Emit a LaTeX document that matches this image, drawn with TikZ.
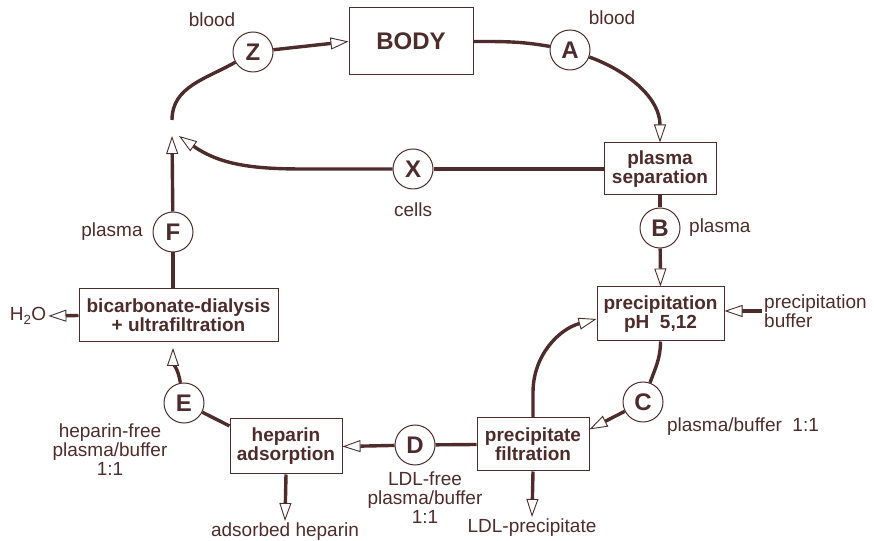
\documentclass[tikz,border=0pt]{standalone}
\usepackage{fontspec}
\setmainfont{Liberation Sans}
\usetikzlibrary{arrows.meta}
\definecolor{ink}{RGB}{78,44,44}

\begin{document}
\begin{tikzpicture}[x=1pt, y=1pt, font=\fontsize{19}{19}\selectfont, text=ink]
	\tikzset{
		cbox/.style={rectangle, draw=ink, line width=1pt, fill=white, align=center, font=\fontsize{19}{19}\selectfont\bfseries},
		cletter/.style={circle, draw=ink, line width=1pt, fill=white, minimum size=40pt, inner sep=0pt, font=\fontsize{24}{24}\selectfont\bfseries},
		clabel/.style={inner sep=2pt, align=center},
		flow/.style={draw=ink, line width=3.4pt},
		arr/.style={-{Triangle[length=18pt, width=12pt, fill=white, line width=0.9pt]}}
	}
	\useasboundingbox (0,0) rectangle (874,540);
	% boxes
	\node[cbox, minimum width=124pt, minimum height=67pt, font=\fontsize{24}{24}\selectfont\bfseries] (body) at (411,498.5) {BODY};
	\node[cbox, minimum width=112pt, minimum height=52pt] (sep) at (660,371) {plasma\\separation};
	\node[cbox, minimum width=127pt, minimum height=54pt] (prec) at (660.5,226) {precipitation\\pH\ \ 5,12};
	\node[cbox, minimum width=112pt, minimum height=53pt] (filt) at (533,95.5) {precipitate\\filtration};
	\node[cbox, minimum width=112pt, minimum height=55pt] (hep) at (286,93.5) {heparin\\adsorption};
	\node[cbox, minimum width=199pt, minimum height=53pt] (dial) at (178.5,224.5) {bicarbonate-dialysis\\+ ultrafiltration};
	% circles
	\node[cletter] (Z) at (253,488) {Z};
	\node[cletter] (A) at (570,490) {A};
	\node[cletter] (X) at (413,371) {X};
	\node[cletter] (B) at (660,312) {B};
	\node[cletter] (C) at (643,138) {C};
	\node[cletter] (D) at (415,95) {D};
	\node[cletter] (E) at (184,137) {E};
	\node[cletter] (F) at (173,308) {F};
	% labels
	\node[clabel] (bloodz) at (212,520) {blood};
	\node[clabel] (blooda) at (612,522) {blood};
	\node[clabel] (cells) at (413,330) {cells};
	\node[clabel, anchor=west] (plasmab) at (687,312) {plasma};
	\node[clabel] (plasmaf) at (112,308) {plasma};
	\node[clabel, anchor=west, align=left] (precbuf) at (762,229) {precipitation\\buffer};
	\node[clabel] (pbuf) at (743,113) {plasma/buffer\ \ 1:1};
	\node[clabel] (ldlp) at (532,12) {LDL-precipitate};
	\node[clabel] (ldlfree) at (425,42) {LDL-free\\plasma/buffer\\1:1};
	\node[clabel] (hepfree) at (110,90) {heparin-free\\plasma/buffer\\1:1};
	\node[clabel] (adshep) at (285,8) {adsorbed heparin};
	\node[clabel] (h2o) at (28,224) {H\textsubscript{2}O};
	\coordinate (ftip) at (172,404);
	\coordinate (xtip) at (179,404);
	\coordinate (zend) at (172,420);
	\coordinate (etip) at (173,192);
	% blood loop
	\draw[flow, arr] (Z) -- (body.west);
	\draw[flow] (body.east) to[out=0, in=170] (A);
	\draw[flow, arr] (A) to[out=-20, in=90] (sep.north);
	\draw[flow] (sep.west) -- (X);
	\draw[flow, arr] (X) -- ++(-110,0) to[out=180, in=-35] (xtip);
	\draw[flow] (Z) to[out=210, in=90] (zend);
	% plasma path
	\draw[flow] (sep.south) -- (B);
	\draw[flow, arr] (B) -- (prec.north);
	\draw[flow, arr] (precbuf.west) -- (precbuf.west -| prec.east);
	\draw[flow] (prec.south) to[out=-90, in=70] (C);
	\draw[flow, arr] (C) -- (filt.15);
	\draw[flow, arr] (filt.north) -- ++(0,25) to[out=90, in=195] ([yshift=-5pt]prec.west);
	\draw[flow, arr] (filt.south) -- (ldlp.north);
	\draw[flow] (filt.west) -- (D);
	\draw[flow, arr] (D) -- (hep.east);
	\draw[flow, arr] (hep.south) -- (adshep.north);
	\draw[flow] (E) -- (hep.160);
	\draw[flow, arr] (E) to[out=100, in=-90] (etip);
	\draw[flow, arr] (dial.west) -- (h2o.east);
	\draw[flow] (F) -- (F |- dial.north);
	\draw[flow, arr] (F) -- (ftip);
\end{tikzpicture}
\end{document}
